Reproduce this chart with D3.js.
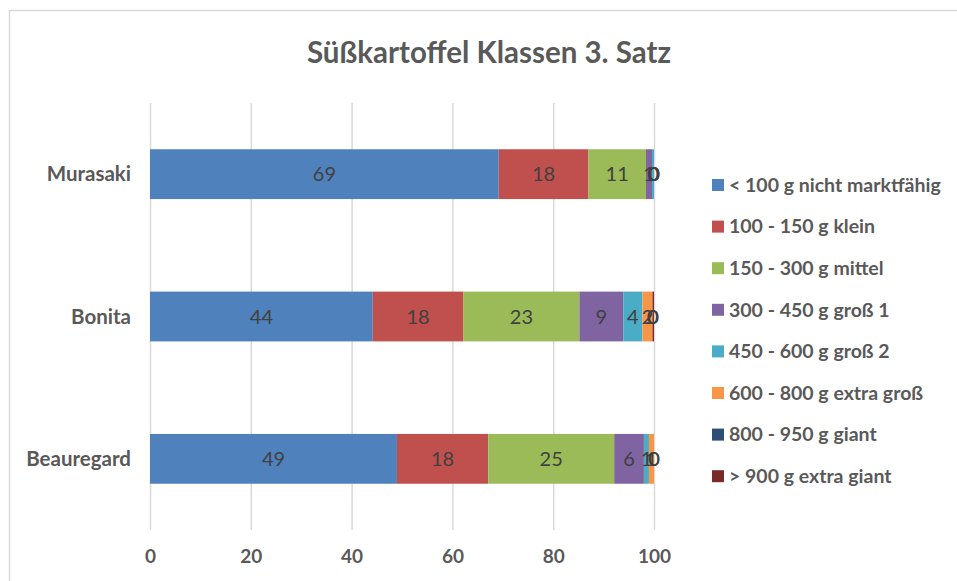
<!DOCTYPE html>
<html>
<head>
<meta charset="utf-8">
<script src="https://cdn.jsdelivr.net/npm/d3@7"></script>
<style>
  body { margin: 0; background: #fff; }
  svg { display: block; font-family: Lato, "Open Sans", sans-serif; }
</style>
</head>
<body>
<svg id="chart" width="957" height="581"></svg>
<script>
(function() {
    // data (percent of tubers per class)
    var varieties = ["Murasaki", "Bonita", "Beauregard"]
    var classes = ["< 100 g nicht marktfähig", "100 - 150 g klein", "150 - 300 g mittel",
        "300 - 450 g groß 1", "450 - 600 g groß 2", "600 - 800 g extra groß",
        "800 - 950 g giant", "> 900 g extra giant"]
    var murasaki   = [69.2, 17.8, 11.4, 1.2, 0.4, 0, 0, 0]
    var bonita     = [44.2, 18.0, 23.0, 8.7, 3.8, 2.0, 0, 0.3]
    var beauregard = [49.0, 18.1, 25.0, 5.9, 1.0, 1.0, 0, 0]
    var xTicks = [0, 20, 40, 60, 80, 100]
    var colors = ["#4f81bd", "#c0504d", "#9bbb59", "#8064a2", "#4bacc6", "#f79646", "#2c4d75", "#772c2a"]

    var values = [murasaki, bonita, beauregard]
    var rows = varieties.map(function(v, i) {
        var r = { name: v }
        classes.forEach(function(c, j) { r[c] = values[i][j] })
        return r
    })

    var svg = d3.select("#chart")
    var margin = { left: 150, right: 303, top: 103, bottom: 51 }
    var W = 957, H = 581

    // chart frame
    svg.append("rect")
        .attr("x", 9.5).attr("y", 10.5)
        .attr("width", 960).attr("height", 600)
        .attr("fill", "#fff").attr("stroke", "#d9d9d9").attr("stroke-width", 1.5)

    svg.append("text")
        .attr("x", 489).attr("y", 63)
        .attr("text-anchor", "middle")
        .attr("font-size", 29.5).attr("font-weight", "bold")
        .attr("fill", "#595959")
        .text("Süßkartoffel Klassen 3. Satz")

    var x = d3.scaleLinear().domain([0, 100]).range([margin.left, W - margin.right])
    var y = d3.scaleBand().domain(varieties).range([margin.top, H - margin.bottom]).paddingInner(0.65).paddingOuter(0.325)

    // gridlines + tick labels
    var xAxis = svg.append("g")
        .attr("transform", "translate(0," + (H - margin.bottom) + ")")
        .call(d3.axisBottom(x).tickValues(xTicks).tickSize(-(H - margin.top - margin.bottom)).tickPadding(20))
    xAxis.select(".domain").remove()
    xAxis.selectAll("line").attr("stroke", "#d9d9d9").attr("stroke-width", 1.5)
    xAxis.selectAll("text")
        .attr("font-family", "Lato, sans-serif")
        .attr("font-size", 19).attr("font-weight", "bold").attr("fill", "#595959")

    // category labels
    svg.append("g").selectAll("text")
        .data(varieties)
        .join("text")
        .attr("x", 131)
        .attr("y", function(d) { return y(d) + y.bandwidth() / 2 })
        .attr("dy", "0.35em")
        .attr("text-anchor", "end")
        .attr("font-size", 20.5).attr("font-weight", "bold").attr("fill", "#595959")
        .text(function(d) { return d })

    var stack = d3.stack().keys(classes)(rows)

    var layers = svg.append("g").selectAll("g")
        .data(stack)
        .join("g")
        .attr("fill", function(d, i) { return colors[i] })

    layers.selectAll("rect")
        .data(function(d) { return d })
        .join("rect")
        .attr("x", function(d) { return x(d[0]) })
        .attr("y", function(d) { return y(d.data.name) })
        .attr("width", function(d) { return x(d[1]) - x(d[0]) })
        .attr("height", y.bandwidth())

    // data labels (Excel shows them even for zero)
    var labels = svg.append("g")
    stack.forEach(function(layer) {
        labels.selectAll(null)
            .data(layer)
            .join("text")
            .attr("x", function(d) { return (x(d[0]) + x(d[1])) / 2 })
            .attr("y", function(d) { return y(d.data.name) + y.bandwidth() / 2 })
            .attr("dy", "0.36em")
            .attr("text-anchor", "middle")
            .attr("font-size", 20).attr("fill", "#404040")
            .text(function(d) { return d3.format(".0f")(d[1] - d[0]) })
    })

    // legend
    var legend = svg.append("g").selectAll("g")
        .data(classes)
        .join("g")
        .attr("transform", function(d, i) { return "translate(712," + (185 + i * 41.6) + ")" })
    legend.append("rect")
        .attr("x", 0).attr("y", -6).attr("width", 12).attr("height", 12)
        .attr("fill", function(d, i) { return colors[i] })
    legend.append("text")
        .attr("x", 17).attr("dy", "0.35em")
        .attr("font-size", 19.5).attr("font-weight", "bold").attr("fill", "#595959")
        .text(function(d) { return d })
})();
</script>
</body>
</html>
